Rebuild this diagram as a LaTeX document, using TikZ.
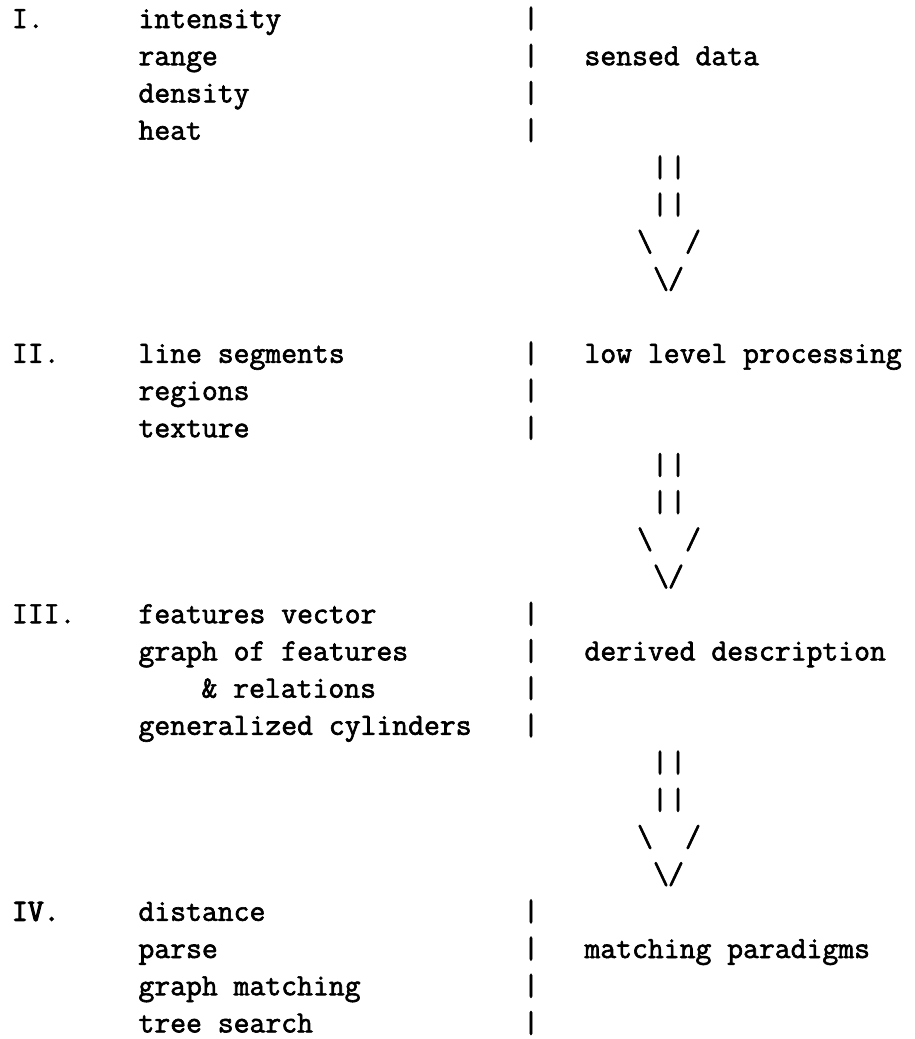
\documentclass[tikz,border=0pt]{standalone}
\usepackage{fontspec}
\newfontfamily\tw{Latin Modern Mono}[FakeBold=2]
\newfontfamily\twb{Latin Modern Mono}[FakeBold=3.5]
\begin{document}
\begin{tikzpicture}[x=1pt,y=1pt,
  tt/.style={inner sep=0pt, outer sep=0pt, anchor=base west, font=\tw\fontsize{30.8}{36}\selectfont},
  ttb/.style={tt, font=\twb\fontsize{30.8}{36}\selectfont},
  ch/.style={inner sep=0pt, outer sep=0pt, anchor=base, font=\tw\fontsize{30.8}{36}\selectfont}]
\useasboundingbox (0,0) rectangle (914,-1039);
% ---- Level I
\node[tt] (n1) at (12,-28) {I.};
\node[tt] (i1) at (138.5,-28) {intensity};
\node[tt] (i2) at (138.5,-65.2) {range};
\node[tt] (i3) at (138.5,-102.4) {density};
\node[tt] (i4) at (138.5,-139.6) {heat};
\node[tt] (r1) at (584.5,-65.2) {sensed data};
\foreach \y [count=\k] in {28,65.2,102.4,139.6}
  \node[ch] (ba\k) at (531,-\y) {|};
% ---- arrow 1
\node[ch] (a1p1) at (660,-176.8) {|};
\node[ch] (a1p2) at (678,-176.8) {|};
\node[ch] (a1p3) at (660,-214) {|};
\node[ch] (a1p4) at (678,-214) {|};
\node[ch] (a1l) at (645,-251.2) {\textbackslash};
\node[ch] (a1r) at (693,-251.2) {/};
\node[ch] (a1bl) at (661,-288.4) {\textbackslash};
\node[ch] (a1br) at (676,-288.4) {/};
% ---- Level II
\node[tt] (n2) at (12,-362.8) {II.};
\node[tt] (j1) at (138.5,-362.8) {line segments};
\node[tt] (j2) at (138.5,-400) {regions};
\node[tt] (j3) at (138.5,-437.2) {texture};
\node[tt] (r2) at (584.5,-362.8) {low level processing};
\foreach \y [count=\k] in {362.8,400,437.2}
  \node[ch] (bb\k) at (531,-\y) {|};
% ---- arrow 2
\node[ch] (a2p1) at (660,-474.4) {|};
\node[ch] (a2p2) at (678,-474.4) {|};
\node[ch] (a2p3) at (660,-511.6) {|};
\node[ch] (a2p4) at (678,-511.6) {|};
\node[ch] (a2l) at (645,-548.8) {\textbackslash};
\node[ch] (a2r) at (693,-548.8) {/};
\node[ch] (a2bl) at (661,-586) {\textbackslash};
\node[ch] (a2br) at (676,-586) {/};
% ---- Level III
\node[tt] (n3) at (12,-623.2) {III.};
\node[tt] (k1) at (138.5,-623.2) {features vector};
\node[tt] (k2) at (138.5,-660.4) {graph of features};
\node[tt] (k3) at (201.5,-697.6) {\& relations};
\node[tt] (k4) at (138.5,-734.8) {generalized cylinders};
\node[tt] (r3) at (584.5,-660.4) {derived description};
\foreach \y [count=\k] in {623.2,660.4,697.6,734.8}
  \node[ch] (bc\k) at (531,-\y) {|};
% ---- arrow 3
\node[ch] (a3p1) at (660,-772) {|};
\node[ch] (a3p2) at (678,-772) {|};
\node[ch] (a3p3) at (660,-809.2) {|};
\node[ch] (a3p4) at (678,-809.2) {|};
\node[ch] (a3l) at (645,-846.4) {\textbackslash};
\node[ch] (a3r) at (693,-846.4) {/};
\node[ch] (a3bl) at (661,-883.6) {\textbackslash};
\node[ch] (a3br) at (676,-883.6) {/};
% ---- Level IV
\node[ttb] (n4) at (12,-920.8) {IV.};
\node[tt] (m1) at (138.5,-920.8) {distance};
\node[tt] (m2) at (138.5,-958) {parse};
\node[tt] (m3) at (138.5,-995.2) {graph matching};
\node[tt] (m4) at (138.5,-1032.4) {tree search};
\node[tt] (r4) at (584.5,-958) {matching paradigms};
\foreach \y [count=\k] in {920.8,958,995.2,1032.4}
  \node[ch] (bd\k) at (531,-\y) {|};
\end{tikzpicture}
\end{document}
